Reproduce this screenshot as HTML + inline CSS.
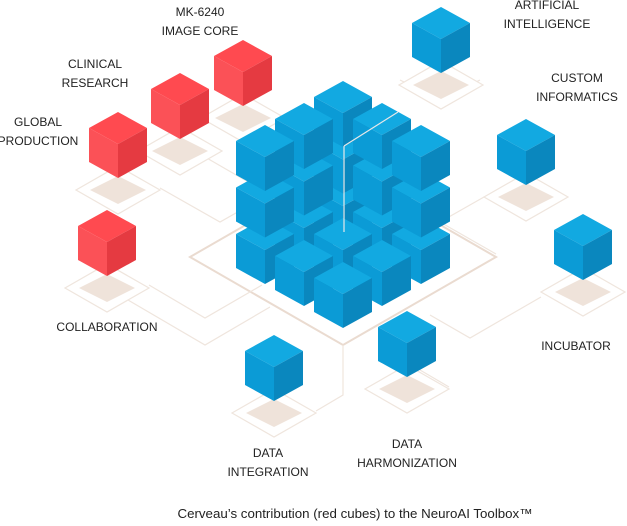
<!DOCTYPE html>
<html><head><meta charset="utf-8"><style>
html,body{margin:0;padding:0;background:#fff;width:627px;height:526px;overflow:hidden}
svg{display:block}
text{font-family:"Liberation Sans",sans-serif;font-size:12px;fill:#222;text-anchor:middle}
</style></head><body>
<svg id="s" width="627" height="526" viewBox="0 0 627 526" xmlns="http://www.w3.org/2000/svg">
<g id="lines" fill="none" stroke="#efe5dd" stroke-width="1.2">
<polygon points="343,169 496,257 343,345 190,257" stroke="#eadbd0" stroke-width="2"/>
<polyline points="149,285 205,318 262,285"/>
<polyline points="128,300 205,345 270,307"/>
<polyline points="160,188 220,222 250,205"/>
<polyline points="205,157 250,183"/>
<polyline points="400,80 440,100 480,80"/>
<polyline points="484,197 440,222 496,254"/>
<polyline points="541,297 470,338 430,315"/>
<polyline points="316,411 343,395 343,345"/>
<polyline points="449,387 420,370"/>
</g>
<g id="shadows"></g>
<g id="cubes"></g>
<line x1="344" y1="232" x2="344" y2="146" stroke="#e8e8e8" stroke-width="1.2"/>
<line x1="344" y1="146" x2="398" y2="112" stroke="#e8e8e8" stroke-width="1.2"/>
<text x="200" y="16">MK-6240</text><text x="200" y="35">IMAGE CORE</text>
<text x="95" y="68">CLINICAL</text><text x="95" y="87">RESEARCH</text>
<text x="38" y="126">GLOBAL</text><text x="38" y="145">PRODUCTION</text>
<text x="547" y="9">ARTIFICIAL</text><text x="547" y="28">INTELLIGENCE</text>
<text x="577" y="82">CUSTOM</text><text x="577" y="101">INFORMATICS</text>
<text x="107" y="331">COLLABORATION</text>
<text x="576" y="350">INCUBATOR</text>
<text x="268" y="457">DATA</text><text x="268" y="476">INTEGRATION</text>
<text x="407" y="448">DATA</text><text x="407" y="467">HARMONIZATION</text>
<text x="355" y="518" style="font-size:13.3px">Cerveau’s contribution (red cubes) to the NeuroAI Toolbox™</text>
</svg>
<script>
var NS="http://www.w3.org/2000/svg";
function poly(g,pts,fill,stroke){var p=document.createElementNS(NS,"polygon");p.setAttribute("points",pts.map(function(a){return a.join(",")}).join(" "));p.setAttribute("fill",fill);if(stroke){p.setAttribute("stroke",stroke);p.setAttribute("stroke-width","1.2");}g.appendChild(p);}
var W=29,H=16,S=34;
var BLUE=["#12a9e1","#0b9bd6","#0a87be"],RED=["#ff4a50","#fb5157","#e53a41"];
function cube(g,cx,ty,c){
 poly(g,[[cx,ty],[cx+W,ty+H],[cx,ty+2*H],[cx-W,ty+H]],c[0]);
 poly(g,[[cx-W,ty+H],[cx,ty+2*H],[cx,ty+2*H+S],[cx-W,ty+H+S]],c[1]);
 poly(g,[[cx+W,ty+H],[cx,ty+2*H],[cx,ty+2*H+S],[cx+W,ty+H+S]],c[2]);
}
var sh=document.getElementById("shadows"),cu=document.getElementById("cubes");
function shadow(cx,cy){
 poly(sh,[[cx,cy-24],[cx+42,cy],[cx,cy+24],[cx-42,cy]],"#fff","#efe5dd");
 poly(sh,[[cx,cy-14],[cx+28,cy],[cx,cy+14],[cx-28,cy]],"#efe3da");
}
var small=[[441,7,BLUE],[526,119,BLUE],[583,214,BLUE],[407,311,BLUE],[274,335,BLUE],
[107,210,RED],[118,112,RED],[180,73,RED],[243,40,RED]];
small.forEach(function(s){shadow(s[0],s[1]+78);});
small.forEach(function(s){cube(cu,s[0],s[1],s[2]);});
var list=[];
for(var i=0;i<3;i++)for(var j=0;j<3;j++)for(var k=0;k<3;k++){
 if(k==0||i==0||j==0)list.push([i,j,k]);
}
list.sort(function(a,b){return (a[0]+a[1])-(b[0]+b[1])||a[2]-b[2];});
list.forEach(function(p){var i=p[0],j=p[1],k=p[2];
 var cx=343-39*i+39*j, ty=81+22*i+22*j+46.5*(2-k);
 cube(cu,cx,ty,BLUE);});
</script>
</body></html>
